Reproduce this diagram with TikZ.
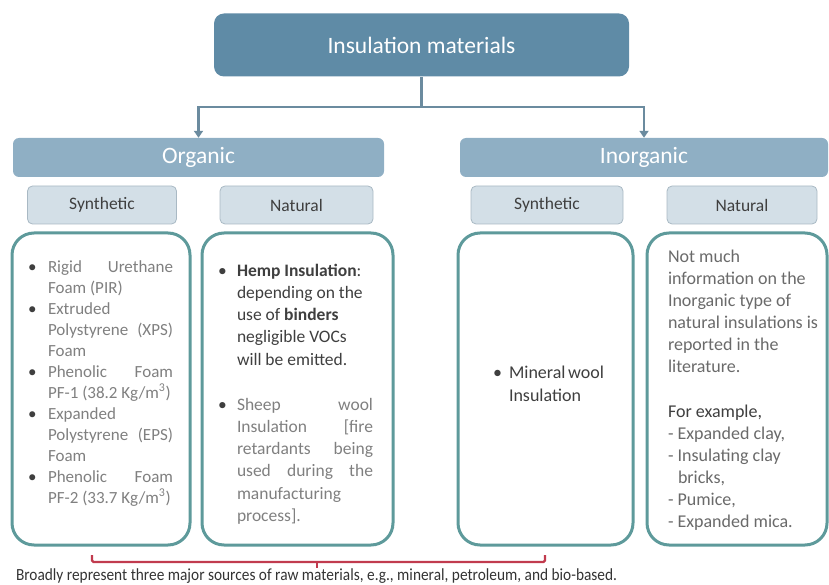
\documentclass[tikz,border=0pt]{standalone}
\usepackage{fontspec}
\setmainfont{Carlito}
\usepackage{graphicx}
\usetikzlibrary{arrows.meta}
\definecolor{topblue}{HTML}{5F8BA6}
\definecolor{midblue}{HTML}{8FAFC4}
\definecolor{lightbox}{HTML}{D3DFE7}
\definecolor{lightedge}{HTML}{A9B9C4}
\definecolor{connc}{HTML}{6B8B9F}
\definecolor{tealc}{HTML}{5E9A9B}
\definecolor{redc}{HTML}{C13B4E}
\definecolor{txtgray}{HTML}{808080}
\definecolor{txtdark}{HTML}{3F3F3F}
\definecolor{txtmid}{HTML}{6A6A6A}
\begin{document}
\begin{tikzpicture}[x=1pt,y=-1pt,
 topbox/.style={fill=topblue, rounded corners=10pt, text=white, font=\fontsize{23.5}{28}\selectfont, inner sep=0pt},
 catbox/.style={fill=midblue, rounded corners=6pt, text=white, font=\fontsize{23.5}{28}\selectfont, inner sep=0pt, minimum height=39pt},
 subbox/.style={fill=lightbox, draw=lightedge, line width=0.8pt, rounded corners=5pt, text=txtdark, font=\fontsize{17.5}{21}\selectfont, inner sep=0pt, minimum height=38pt},
 listbox/.style={draw=tealc, line width=3pt, fill=white, rounded corners=22pt, inner sep=0pt, minimum height=312pt},
 conn/.style={draw=connc, line width=2.8pt},
 tipc/.style={-{Triangle[width=9pt,length=7pt]}},
 ln/.style={anchor=base west, inner sep=0pt, outer sep=0pt},
 fa/.style={font=\fontsize{17}{20}\selectfont},
 fb/.style={font=\fontsize{17.5}{21}\selectfont},
 fc/.style={font=\fontsize{18}{22}\selectfont},
 bul/.style={ln, text=txtdark}]
\useasboundingbox (0,0) rectangle (829,585);

% headers
\node[topbox, minimum width=415pt, minimum height=63pt] (top) at (421.5,45) {Insulation materials};
\node[catbox, minimum width=371pt] (org) at (198.5,157.5) {Organic};
\node[catbox, minimum width=368pt] (inorg) at (644,157.5) {Inorganic};
\node[subbox, minimum width=149pt] (osyn) at (102,205) {Synthetic};
\node[subbox, minimum width=153pt] (onat) at (296.5,205) {Natural};
\node[subbox, minimum width=152pt] (isyn) at (547,205) {Synthetic};
\node[subbox, minimum width=150pt] (inat) at (742,205) {Natural};

% connectors
\coordinate (j) at (421.5,107);
\draw[conn] (top.south) -- (j);
\draw[conn, tipc] (j) -| (org.north);
\draw[conn, tipc] (j) -| (inorg.north);

% list boxes
\node[listbox, minimum width=178pt] (b1) at (101,389) {};
\node[listbox, minimum width=191pt] (b2) at (297.5,389) {};
\node[listbox, minimum width=175pt] (b3) at (545.5,389) {};
\node[listbox, minimum width=180pt] (b4) at (737,389) {};

% box 1
\begin{scope}[every node/.style={fa}]
\node[bul] (b1a) at (28,272) {\textbullet};
\node[bul] (b1b) at (28,314) {\textbullet};
\node[bul] (b1c) at (28,377) {\textbullet};
\node[bul] (b1d) at (28,419) {\textbullet};
\node[bul] (b1e) at (28,482) {\textbullet};
\node[ln, text=txtgray] (t1a) at (48,272) {\makebox[125pt][s]{Rigid Urethane}};
\node[ln, text=txtgray] (t1b) at (48,293) {Foam (PIR)};
\node[ln, text=txtgray] (t1c) at (48,314) {Extruded};
\node[ln, text=txtgray] (t1d) at (48,335) {\makebox[125pt][s]{Polystyrene (XPS)}};
\node[ln, text=txtgray] (t1e) at (48,356) {Foam};
\node[ln, text=txtgray] (t1f) at (48,377) {\makebox[125pt][s]{Phenolic Foam}};
\node[ln, text=txtgray] (t1g) at (48,398) {PF-1 (38.2 Kg/m\textsuperscript{3})};
\node[ln, text=txtgray] (t1h) at (48,419) {Expanded};
\node[ln, text=txtgray] (t1i) at (48,440) {\makebox[125pt][s]{Polystyrene (EPS)}};
\node[ln, text=txtgray] (t1j) at (48,461) {Foam};
\node[ln, text=txtgray] (t1k) at (48,482) {\makebox[125pt][s]{Phenolic Foam}};
\node[ln, text=txtgray] (t1l) at (48,503) {PF-2 (33.7 Kg/m\textsuperscript{3})};
\end{scope}

% box 2
\begin{scope}[every node/.style={fb}]
\node[bul] (b2a) at (218,276) {\textbullet};
\node[bul] (b2b) at (218,410) {\textbullet};
\node[ln, text=txtdark] (t2a) at (237,276) {\textbf{Hemp Insulation}:};
\node[ln, text=txtdark] (t2b) at (237,298.3) {depending on the};
\node[ln, text=txtdark] (t2c) at (237,320.6) {use of \textbf{binders}};
\node[ln, text=txtdark] (t2d) at (237,342.9) {negligible VOCs};
\node[ln, text=txtdark] (t2e) at (237,365.2) {will be emitted.};
\node[ln, text=txtgray] (t2f) at (237,410) {\makebox[136pt][s]{Sheep wool}};
\node[ln, text=txtgray] (t2g) at (237,432.3) {\makebox[136pt][s]{Insulation [fire}};
\node[ln, text=txtgray] (t2h) at (237,454.6) {\makebox[136pt][s]{retardants being}};
\node[ln, text=txtgray] (t2i) at (237,476.9) {\makebox[136pt][s]{used during the}};
\node[ln, text=txtgray] (t2j) at (237,499.2) {manufacturing};
\node[ln, text=txtgray] (t2k) at (237,521.5) {process].};
\end{scope}

% box 3
\begin{scope}[every node/.style={fc}]
\node[bul] (b3a) at (493,378) {\textbullet};
\node[ln, text=txtdark] (t3a) at (509,378) {Mineral\hspace{2.5pt}wool};
\node[ln, text=txtdark] (t3b) at (509,401) {Insulation};
\end{scope}

% box 4
\begin{scope}[every node/.style={fc}]
\node[ln, text=txtmid] (t4a) at (668,262) {Not much};
\node[ln, text=txtmid] (t4b) at (668,284) {information on the};
\node[ln, text=txtmid] (t4c) at (668,306) {Inorganic type of};
\node[ln, text=txtmid] (t4d) at (668,328) {natural insulations is};
\node[ln, text=txtmid] (t4e) at (668,350) {reported in the};
\node[ln, text=txtmid] (t4f) at (668,372) {literature.};
\node[ln, text=txtdark] (t4g) at (668,417) {For example,};
\node[ln, text=txtmid] (t4h) at (668,439) {- Expanded clay,};
\node[ln, text=txtmid] (t4i) at (668,461) {- Insulating clay};
\node[ln, text=txtmid] (t4j) at (678,483) {bricks,};
\node[ln, text=txtmid] (t4k) at (668,505) {- Pumice,};
\node[ln, text=txtmid] (t4l) at (668,527) {- Expanded mica.};
\end{scope}

% bracket and caption
\coordinate (brL) at (92,555);
\coordinate (brR) at (545,555);
\coordinate (brM) at (317,562);
\coordinate (brT) at (317,568);
\draw[redc, line width=2.4pt, rounded corners=1.5pt] (brL) |- (brM) -| (brR);
\draw[redc, line width=2.4pt] (brM) -- (brT);
\node[ln, text=black!80, font=\fontsize{17}{20}\selectfont] (cap) at (16,580.5)
 {\resizebox{601pt}{\height}{Broadly represent three major sources of raw materials, e.g., mineral, petroleum, and bio-based.}};
\end{tikzpicture}
\end{document}
